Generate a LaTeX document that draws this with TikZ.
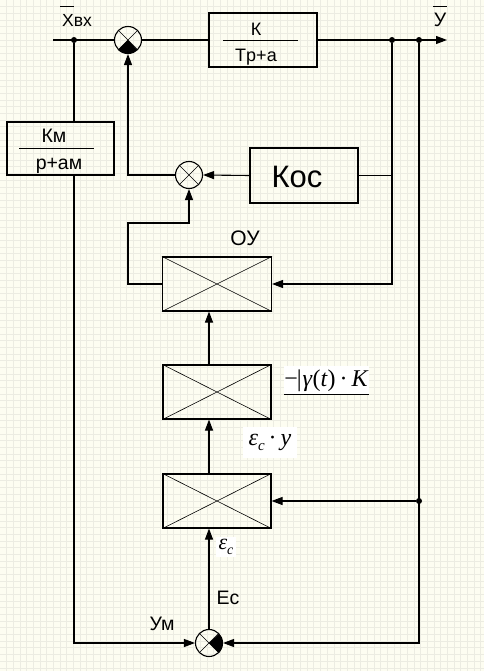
\documentclass[tikz,border=0pt]{standalone}
\usepackage{fontspec}
\setmainfont{Liberation Sans}
\newfontfamily\tmsf{Liberation Serif}
\usetikzlibrary{arrows.meta,calc}
\definecolor{bgc}{RGB}{253,253,241}
\definecolor{gridc}{RGB}{236,236,226}
\begin{document}
\begin{tikzpicture}[x=1pt,y=-1pt,
  ln/.style={line width=1.1pt},
  arr/.style={line width=1.1pt,-{Triangle[length=11pt,width=8pt]}},
  blk/.style={draw,line width=1.1pt,minimum width=108pt,minimum height=54pt,inner sep=0pt},
  sumc/.style={draw,circle,line width=1.1pt,minimum size=27pt,inner sep=0pt},
  jdot/.style={circle,fill,inner sep=0pt,minimum size=6pt},
  lbl/.style={font=\fontsize{19.5}{19.5}\selectfont,anchor=base,inner sep=0pt},
  wbox/.style={fill=white,inner sep=0pt},
  crs/.style={line width=0.6pt}
]
\useasboundingbox (0,0) rectangle (484,671);
\fill[bgc] (0,0) rectangle (484,671);
\foreach \i in {1,...,72} {\draw[gridc,line width=1pt] (\i*6.68,0) -- (\i*6.68,671);}
\foreach \i in {1,...,100} {\draw[gridc,line width=1pt] (0,\i*6.68) -- (484,\i*6.68);}

% nodes
\coordinate (in) at (53,40);
\coordinate (out) at (447,40);
\node[jdot] (d1) at (74,40) {};
\node[jdot] (d2) at (392,40) {};
\node[jdot] (d3) at (419,40) {};
\node[jdot] (d4) at (419,501) {};
\node[sumc] (s1) at (128,40) {};
\node[blk] (G) at (263,40) {};
\node[blk,minimum width=107pt,minimum height=53pt] (Km) at (60.5,148.5) {};
\node[sumc] (s2) at (189,175) {};
\node[blk,minimum height=55pt] (Kos) at (304,175.5) {};
\node[blk,minimum width=109pt] (OY) at (217,284) {};
\node[blk] (B2) at (217,392) {};
\node[blk] (B3) at (217,501) {};
\node[sumc] (s3) at (209,643) {};
\coordinate (j) at (189,223);

% crosses
\foreach \n in {s1,s2,s3,OY,B2,B3} {
  \draw[crs] (\n.north west) -- (\n.south east) (\n.south west) -- (\n.north east);
}
\fill (s1.center) -- (s1.225) arc[start angle=225,end angle=315,radius=13.5pt] -- cycle;
\fill (s3.center) -- (s3.-45) arc[start angle=-45,end angle=45,radius=13.5pt] -- cycle;

% connectors
\draw[ln] (in) -- (s1.west);
\draw[ln] (s1.east) -- (G.west);
\draw[arr] (G.east) -- (out);
\draw[ln] (d1) -- (d1 |- Km.north);
\draw[arr] (d1 |- Km.south) -- (d1 |- s3.center) -- (s3.west);
\draw[arr] (d3) -- (d3 |- s3.center) -- (s3.east);
\draw[arr] (d4) -- (B3.east);
\draw[arr] (d2) -- (d2 |- OY.east) -- (OY.east);
\draw[ln] (Kos.east) -- (Kos.east -| d2);
\draw[arr] (Kos.west) -- (s2.east);
\draw[arr] (s2.west) -- (s2.west -| s1) -- (s1.south);
\draw[arr] (OY.west) -- (OY.west -| s1) -- (j -| s1) -- (j) -- (s2.south);
\draw[arr] (s3.north) -- (B3.south -| s3);
\draw[arr] (B3.north -| s3) -- (B2.south -| s3);
\draw[arr] (B2.north -| s3) -- (OY.south -| s3);

% labels
\node[lbl,font=\fontsize{17.5}{17.5}\selectfont] (xl) at (77,27) {Xвх};
\draw[line width=0.8pt] (60,6) -- (74,6);
\node[lbl] (yl) at (440,27) {У};
\draw[line width=0.8pt] (433,6) -- (447,6);
\node[lbl,font=\fontsize{18}{18}\selectfont] (kl) at (256,36) {К};
\node[lbl,font=\fontsize{18}{18}\selectfont] (tl) at (256,62) {Tp+a};
\draw[line width=0.8pt] (223,40) -- (298,40);
\node[lbl] (kml) at (54,143) {Км};
\node[lbl] (pl) at (59,170) {р+ам};
\draw[line width=0.8pt] (19,148) -- (94,148);
\node[lbl,font=\fontsize{31}{31}\selectfont] (kosl) at (297,187) {Кос};
\node[lbl,font=\fontsize{21}{21}\selectfont] (oyl) at (245,245) {ОУ};
\node[lbl] (ecl) at (228,604) {Ec};
\node[lbl] (uml) at (162,630) {Ум};

\node[wbox,minimum width=85pt,minimum height=29pt,font=\tmsf\fontsize{24}{24}\selectfont] (gk) at (326.5,380.5) {−\kern-1pt|\kern1pt\textit{γ}(\textit{t})\,·\,\textit{K}};
\draw[line width=1pt] ([yshift=1pt]gk.south west) -- ([yshift=1pt]gk.south east);
\node[wbox,minimum width=54pt,minimum height=31pt,font=\tmsf\fontsize{24}{24}\selectfont] (ey) at (270,442.5) {\textit{ε}\raisebox{-5pt}{\fontsize{15}{15}\selectfont\textit{c}}\,·\,\textit{y}};
\node[wbox,minimum width=20pt,minimum height=20pt,font=\tmsf\fontsize{22}{22}\selectfont] (ec) at (226,547) {\textit{ε}\raisebox{-5pt}{\fontsize{14}{14}\selectfont\textit{c}}};
\end{tikzpicture}
\end{document}
